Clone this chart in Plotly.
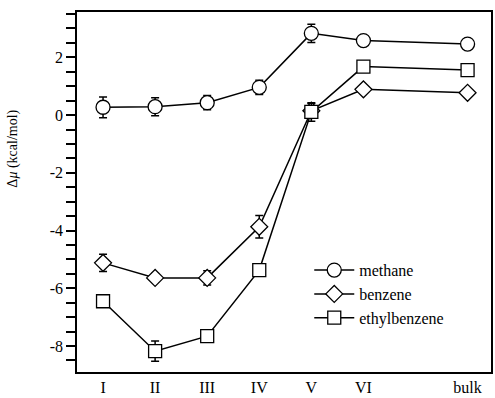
import plotly.graph_objects as go

categories = ["I", "II", "III", "IV", "V", "VI", "bulk"]
x_pos = [1, 2, 3, 4, 5, 6, 8]

methane = [0.27, 0.29, 0.43, 0.96, 2.83, 2.58, 2.46]
methane_err = [0.36, 0.31, 0.25, 0.25, 0.32, 0.0, 0.0]

benzene = [-5.12, -5.64, -5.64, -3.87, 0.15, 0.89, 0.77]
benzene_err = [0.30, 0.15, 0.25, 0.39, 0.25, 0.0, 0.0]

ethylbenzene = [-6.45, -8.18, -7.66, -5.37, 0.11, 1.68, 1.56]
ethylbenzene_err = [0.0, 0.35, 0.0, 0.0, 0.32, 0.2, 0.0]

y_ticks = [-8, -6, -4, -2, 0, 2]

FONT = "Liberation Serif"

fig = go.Figure()

series = [
    ("methane", methane, methane_err, "circle", 14),
    ("benzene", benzene, benzene_err, "diamond", 13),
    ("ethylbenzene", ethylbenzene, ethylbenzene_err, "square", 13),
]

for name, vals, err, sym, size in series:
    fig.add_trace(go.Scatter(
        x=x_pos, y=vals, name=name, mode="lines+markers",
        line=dict(color="black", width=1.5),
        marker=dict(symbol=sym, size=size, color="white",
                    line=dict(color="black", width=1.3)),
        error_y=dict(type="data", array=err, visible=True,
                     color="black", thickness=1.5, width=4),
    ))

fig.update_layout(
    width=495, height=398,
    margin=dict(l=77, r=4, t=12, b=26, autoexpand=False),
    paper_bgcolor="white", plot_bgcolor="white",
    font=dict(family=FONT, size=16, color="black"),
    showlegend=True,
    legend=dict(x=0.561, y=0.33, xanchor="left", yanchor="top",
                bgcolor="rgba(0,0,0,0)", font=dict(family=FONT, size=16),
                tracegroupgap=0, itemwidth=40, itemsizing="trace"),
    xaxis=dict(range=[0.5, 8.45], tickmode="array", tickvals=x_pos,
               ticktext=categories, showgrid=False, zeroline=False,
               showline=True, linecolor="black", linewidth=1.5, mirror=True,
               ticks="", tickfont=dict(family=FONT, size=16),
               automargin=False),
    yaxis=dict(range=[-8.9, 3.57], tickmode="array", tickvals=y_ticks,
               ticktext=[str(v) for v in y_ticks], showgrid=False, zeroline=False,
               showline=True, linecolor="black", linewidth=1.5, mirror=True,
               ticks="outside", ticklen=9, tickwidth=1.5, tickcolor="black",
               minor=dict(dtick=0.5, tick0=0, ticks="outside", ticklen=9,
                          tickwidth=1.5, tickcolor="black", showgrid=False),
               tickfont=dict(family=FONT, size=16), automargin=False),
    annotations=[dict(text="Δ<i>μ</i> (kcal/mol)", textangle=-90,
                      xref="paper", yref="paper", x=-0.155, y=0.62,
                      xanchor="center", yanchor="middle", showarrow=False,
                      font=dict(family=FONT, size=14))],
)

fig.write_html("out.html")
